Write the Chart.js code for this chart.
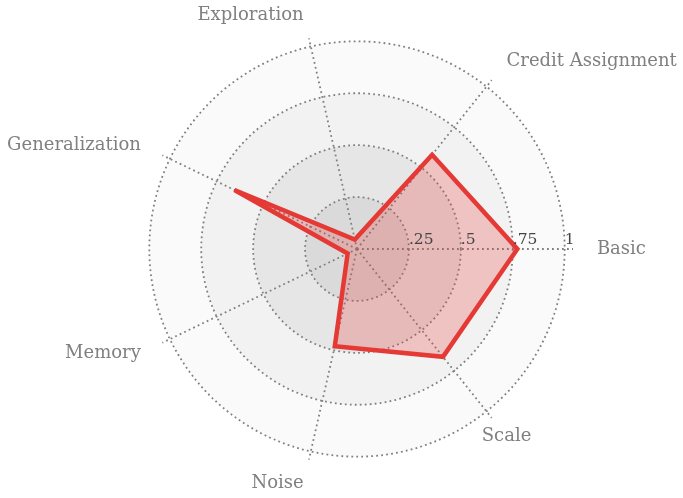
<!DOCTYPE html>
<html>
<head>
<meta charset="utf-8">
<script src="https://cdn.jsdelivr.net/npm/chart.js@4.4.1/dist/chart.umd.min.js"></script>
<style>
  html, body { margin: 0; padding: 0; background: #fff; }
  #wrap { width: 683px; height: 498px; }
</style>
</head>
<body>
<div id="wrap"><canvas id="radar"></canvas></div>
<script>
// categories in drawing order (clockwise from the right)
const categories = ['Basic', 'Scale', 'Noise', 'Memory', 'Generalization', 'Exploration', 'Credit Assignment'];
const scores = [0.772, 0.664, 0.48, 0.05, 0.655, 0.047, 0.58];
const tickValues = [0.25, 0.5, 0.75, 1];
const tickLabels = ['.25', '.5', '.75', '1'];
const ringColors = ['#fafafa', '#f2f2f2', '#e6e6e6', '#dadada'];

const serif = '"DejaVu Serif", serif';

// shaded rings behind the grid
const ringsPlugin = {
    id: 'rings',
    beforeDraw(chart) {
        const r = chart.scales.r;
        const ctx = chart.ctx;
        ctx.save();
        const vals = tickValues.slice().reverse();
        vals.forEach((v, i) => {
            ctx.beginPath();
            ctx.arc(r.xCenter, r.yCenter, r.getDistanceFromCenterForValue(v), 0, Math.PI * 2);
            ctx.fillStyle = ringColors[i];
            ctx.fill();
        });
        ctx.restore();
    }
};

// tick labels along the Basic axis and category labels
const labelsPlugin = {
    id: 'labels',
    afterDraw(chart) {
        const r = chart.scales.r;
        const ctx = chart.ctx;
        ctx.save();
        ctx.font = '15.5px ' + serif;
        ctx.fillStyle = '#444';
        ctx.textAlign = 'left';
        ctx.textBaseline = 'bottom';
        tickValues.forEach((v, i) => {
            const p = r.getPointPositionForValue(0, v);
            ctx.fillText(tickLabels[i], p.x, p.y - 1);
        });

        ctx.font = '18px ' + serif;
        ctx.fillStyle = '#808080';
        ctx.textBaseline = 'middle';
        categories.forEach((c, i) => {
            const p = r.getPointPositionForValue(i, 1.155);
            if (p.x < r.xCenter - 1) ctx.textAlign = 'right';
            else if (p.y > r.yCenter + 1) ctx.textAlign = 'center';
            else ctx.textAlign = 'left';
            ctx.fillText(c, p.x, p.y);
        });
        ctx.restore();
    }
};

new Chart(document.getElementById('radar'), {
    type: 'radar',
    data: {
        labels: categories,
        datasets: [{
            data: scores,
            borderColor: '#e53935',
            backgroundColor: 'rgba(229, 57, 53, 0.25)',
            borderWidth: 4.5,
            borderJoinStyle: 'miter',
            pointRadius: 0,
            fill: true
        }]
    },
    options: {
        responsive: true,
        maintainAspectRatio: false,
        animation: false,
        layout: { padding: { left: 31, right: 0, top: 33, bottom: 33 } },
        plugins: {
            legend: { display: false },
            tooltip: { enabled: false }
        },
        scales: {
            r: {
                min: 0,
                max: 1.04,
                startAngle: 90,
                ticks: { stepSize: 0.25, display: false },
                afterBuildTicks: s => { s.ticks = s.ticks.filter(t => t.value <= 1); },
                pointLabels: { display: false },
                grid: { circular: true, color: '#808080', lineWidth: 1.8 },
                border: { dash: [1.8, 3.2] },
                angleLines: { color: '#808080', lineWidth: 1.8, borderDash: [1.8, 3.2] }
            }
        }
    },
    plugins: [ringsPlugin, labelsPlugin]
});
</script>
</body>
</html>
